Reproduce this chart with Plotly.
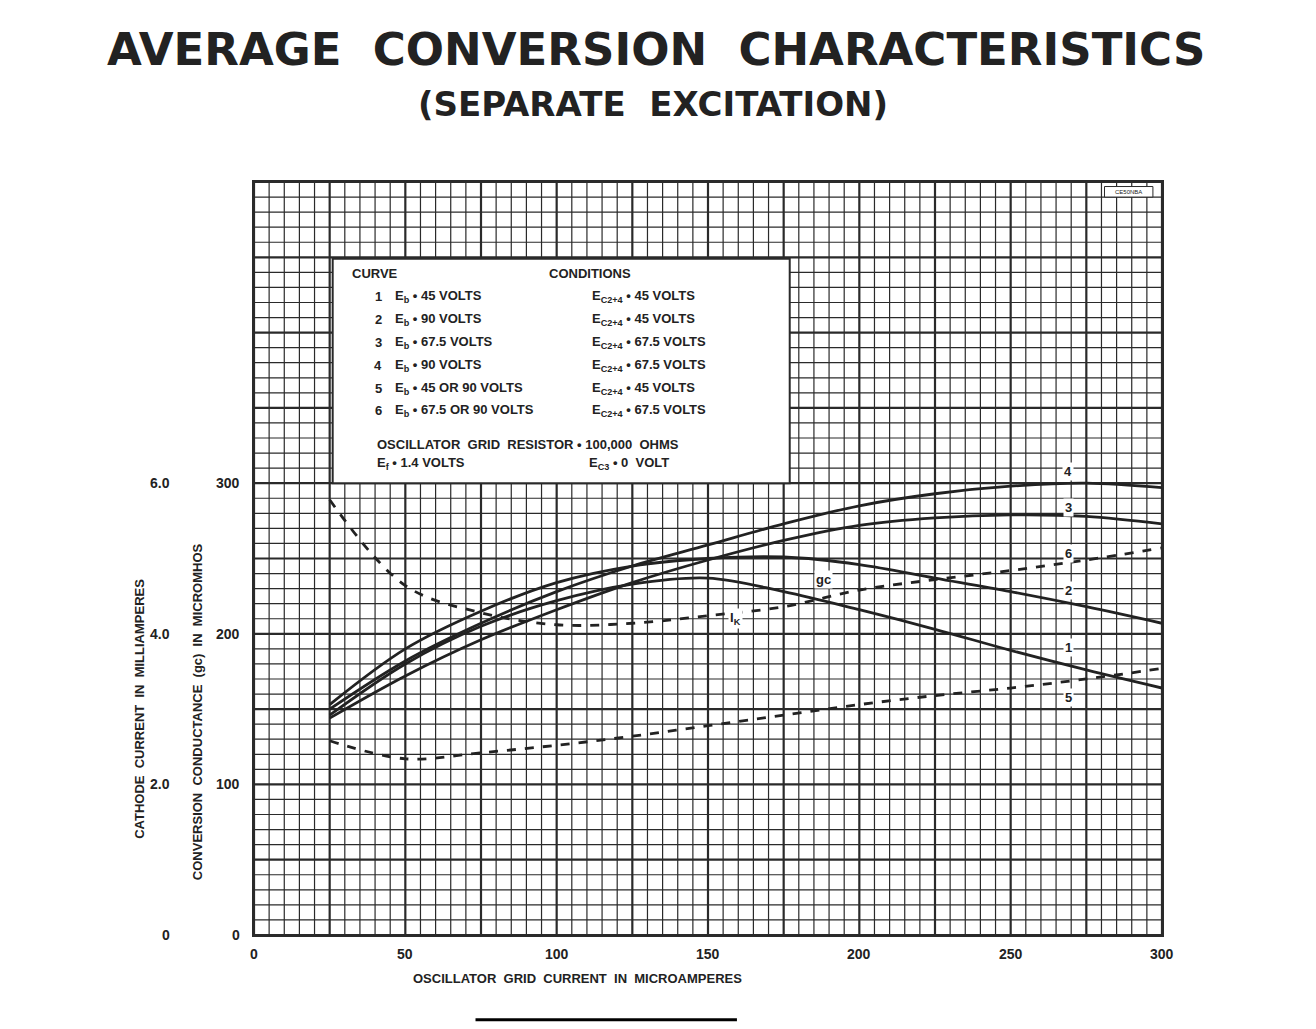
import plotly.graph_objects as go

x_pts = [25, 50, 75, 100, 125, 150, 175, 200, 225, 250, 275, 300]
c4 = [150, 182, 207, 228, 245, 259, 273, 285, 293, 298, 300, 297]
c3 = [144, 172, 196, 216, 234, 249, 262, 272, 277, 279, 278, 273]
c2 = [153, 190, 215, 234, 245, 250, 251, 246, 237, 228, 218, 207]
c1 = [146, 180, 205, 222, 233, 237, 228, 216, 203, 189, 176, 164]
c6 = [289, 232, 214, 206, 207, 212, 218, 229, 236, 242, 249, 257]
c5 = [129, 117, 121, 126, 132, 139, 146, 153, 159, 164, 170, 177]

x_ticks = [0, 50, 100, 150, 200, 250, 300]
gc_ticks = [0, 100, 200, 300]
ma_ticks = ["0", "2.0", "4.0", "6.0"]

legend_rows = [
    ("1", "E<sub>b</sub> • 45 VOLTS", "E<sub>C2+4</sub> • 45 VOLTS"),
    ("2", "E<sub>b</sub> • 90 VOLTS", "E<sub>C2+4</sub> • 45 VOLTS"),
    ("3", "E<sub>b</sub> • 67.5 VOLTS", "E<sub>C2+4</sub> • 67.5 VOLTS"),
    ("4", "E<sub>b</sub> • 90 VOLTS", "E<sub>C2+4</sub> • 67.5 VOLTS"),
    ("5", "E<sub>b</sub> • 45 OR 90 VOLTS", "E<sub>C2+4</sub> • 45 VOLTS"),
    ("6", "E<sub>b</sub> • 67.5 OR 90 VOLTS", "E<sub>C2+4</sub> • 67.5 VOLTS"),
]

F = "Liberation Sans Narrow, Arial Narrow, Liberation Sans, sans-serif"
ink = "#2a2a2a"
L, R, T, B = 246, 162, 174, 102

# empirical pixel -> paper mapping for this layout
def ppx(p):
    return (p - 260) / 888
def ppy(p):
    return (925 - p) / 737
def dx(p):  # pixel -> data x
    return (p - 253) / 910 * 300

fig = go.Figure()
shapes = []
for gx in range(0, 301, 5):
    heavy = gx % 25 == 0
    shapes.append(dict(type="line", xref="x", yref="y", x0=gx, x1=gx, y0=0, y1=500,
                       line=dict(color=ink, width=2.2 if heavy else 1.2), layer="below"))
for gy in range(0, 501, 10):
    heavy = gy % 50 == 0
    shapes.append(dict(type="line", xref="x", yref="y", x0=0, x1=300, y0=gy, y1=gy,
                       line=dict(color=ink, width=2.2 if heavy else 1.2), layer="below"))
shapes.append(dict(type="rect", xref="x", yref="y", x0=26, x1=177, y0=300, y1=449,
                   fillcolor="white", line=dict(color=ink, width=2)))
shapes.append(dict(type="rect", xref="x", yref="y", x0=281, x1=297, y0=490, y1=497,
                   fillcolor="white", line=dict(color=ink, width=1)))
shapes.append(dict(type="line", xref="x", yref="paper", x0=dx(475), x1=dx(737),
                   y0=ppy(1008), y1=ppy(1008), line=dict(color="black", width=3)))
fig.update_layout(shapes=shapes)

for ys, dash in [(c4, "solid"), (c3, "solid"), (c2, "solid"), (c1, "solid"), (c6, "dash"), (c5, "dash")]:
    fig.add_trace(go.Scatter(x=x_pts, y=ys, mode="lines", line=dict(color="#222", width=2.8, dash=dash, shape="spline"),
                             showlegend=False, hoverinfo="skip"))

ann = []
def A(x, y, t, size=13, xref="x", yref="y", family=F, **kw):
    d = dict(x=x, y=y, text=t, xref=xref, yref=yref, showarrow=False,
             font=dict(family=family, size=size, color="#222"))
    d.update(kw)
    ann.append(d)

for v in x_ticks:
    A(v, ppy(953), f"<b>{v}</b>", 14, yref="paper")
for v, m in zip(gc_ticks, ma_ticks):
    A(ppx(248), v, f"<b>{v}</b>", 14, xref="paper", xanchor="right")
    A(ppx(180), v, f"<b>{m}</b>", 14, xref="paper", xanchor="right")
A(107, ppy(977), "<b>OSCILLATOR  GRID  CURRENT  IN  MICROAMPERES</b>", 13, yref="paper")
A(ppx(195), 148, "<b>CONVERSION  CONDUCTANCE  (gc)  IN  MICROMHOS</b>", 13, xref="paper", textangle=-90)
A(ppx(138), 150, "<b>CATHODE  CURRENT  IN  MILLIAMPERES</b>", 13, xref="paper", textangle=-90)
A(289, 493.5, "CE50NBA", 6)

for lx, ly, t in [(269, 308, "4"), (269, 284, "3"), (269, 253, "6"), (269, 229, "2"),
                  (269, 191, "1"), (269, 158, "5"), (188, 236, "gc"), (159, 210, "I<sub>K</sub>")]:
    A(lx, ly, f"<b>{t}</b>", 13, bgcolor="white")

A(40, 439, "<b>CURVE</b>", 13)
A(111, 439, "<b>CONDITIONS</b>", 13)
for i, (n, a, b) in enumerate(legend_rows):
    y = 424 - i * 15.2
    A(41, y, f"<b>{n}</b>", 13)
    A(46, y, f"<b>{a}</b>", 13, xanchor="left")
    A(111, y, f"<b>{b}</b>", 13, xanchor="left")
A(40, 326, "<b>OSCILLATOR  GRID  RESISTOR • 100,000  OHMS</b>", 13, xanchor="left")
A(40, 313, "<b>E<sub>f</sub> • 1.4 VOLTS</b>", 13, xanchor="left")
A(110, 313, "<b>E<sub>C3</sub> • 0  VOLT</b>", 13, xanchor="left")

A(dx(656), ppy(30), "<b>AVERAGE  CONVERSION  CHARACTERISTICS</b>", 45, yref="paper",
  family="DejaVu Sans, sans-serif")
A(dx(653), ppy(90), "<b>(SEPARATE  EXCITATION)</b>", 34, yref="paper",
  family="DejaVu Sans, sans-serif")
fig.update_layout(annotations=ann)

fig.update_layout(
    width=1316, height=1029, paper_bgcolor="white", plot_bgcolor="white",
    margin=dict(l=L, r=R, t=T, b=B),
    xaxis=dict(range=[0, 300], showgrid=False, zeroline=False, showticklabels=False,
               showline=True, linecolor=ink, linewidth=2, mirror=True, fixedrange=True),
    yaxis=dict(range=[0, 500], showgrid=False, zeroline=False, showticklabels=False,
               showline=True, linecolor=ink, linewidth=2, mirror=True, fixedrange=True),
)
fig.write_html("out.html")
